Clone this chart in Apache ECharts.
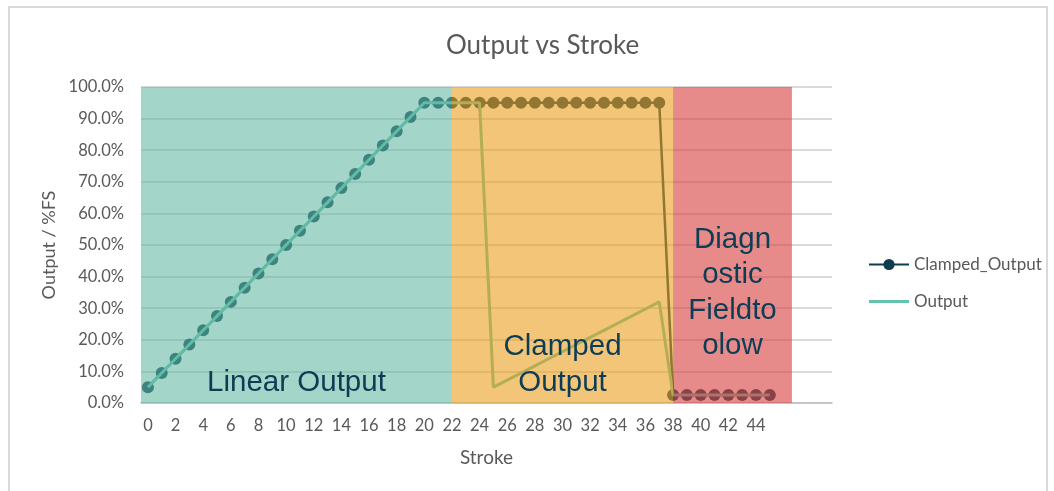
<!DOCTYPE html>
<html>
<head>
<meta charset="utf-8">
<script src="https://cdn.jsdelivr.net/npm/echarts@6/dist/echarts.min.js"></script>
<style>
html,body{margin:0;padding:0;background:#fff;}
#frame{position:absolute;left:8px;top:6px;width:1040px;height:500px;border:2px solid #d9d9d9;box-sizing:border-box;}
#chart{position:absolute;left:0;top:0;width:1054px;height:491px;}
</style>
</head>
<body>
<div id="frame"></div>
<div id="chart"></div>
<script>
// ---- data ----
const categories = ['0','1','2','3','4','5','6','7','8','9','10','11','12','13','14','15','16','17','18','19','20','21','22','23','24','25','26','27','28','29','30','31','32','33','34','35','36','37','38','39','40','41','42','43','44','45','','','',''];
const clampedOutput = [5,9.5,14,18.5,23,27.5,32,36.5,41,45.5,50,54.5,59,63.5,68,72.5,77,81.5,86,90.5,95,
  95,95,95,95,95,95,95,95,95,95,95,95,95,95,95,95,95,
  2.5,2.5,2.5,2.5,2.5,2.5,2.5,2.5];
const output = [5,9.5,14,18.5,23,27.5,32,36.5,41,45.5,50,54.5,59,63.5,68,72.5,77,81.5,86,90.5,95,
  95,95,95,95,
  5,
  7.25,9.5,11.75,14,16.25,18.5,20.75,23,25.25,27.5,29.75,32,
  2.5,2.5,2.5,2.5,2.5,2.5,2.5,2.5];
const bandNames = ['Linear Output', 'Clamped\nOutput', 'Diagn\nostic\nFieldto\nolow'];
const bandStart = [-0.5, 22, 38];
const bandEnd = [22, 38, 46.6];
const bandColors = ['rgba(96,183,162,0.58)', 'rgba(233,158,30,0.6)', 'rgba(214,66,66,0.62)'];
const bandLabelOffsets = [[0,138],[0,120],[0,48]];

const chart = echarts.init(document.getElementById('chart'), null, {renderer:'canvas'});
const FONT = 'Lato';
const markData = bandNames.map((n, i) => [
  {name: n, xAxis: bandStart[i], yAxis: 0,
   itemStyle: {color: bandColors[i]},
   label: {offset: bandLabelOffsets[i]}},
  {xAxis: bandEnd[i], yAxis: 100}
]);

chart.setOption({
  backgroundColor: 'transparent',
  animation: false,
  title: {
    text: 'Output vs Stroke', left: 441, top: 28,
    textStyle: {fontFamily: FONT, fontSize: 26, fontWeight: 'normal', color: '#595959'}
  },
  legend: {
    orient: 'vertical', left: 863, top: 251, itemWidth: 40, itemHeight: 14, itemGap: 20,
    textStyle: {fontFamily: FONT, fontSize: 17, color: '#595959'},
    data: [
      {name: 'Clamped_Output'},
      {name: 'Output', icon: 'path://M0,0 L40,0 L40,3 L0,3 Z'}
    ]
  },
  grid: {left: 141, right: 222, top: 87, bottom: 88, containLabel: false},
  xAxis: [{
    type: 'category', data: categories, boundaryGap: true,
    name: 'Stroke', nameLocation: 'middle', nameGap: 45,
    nameTextStyle: {fontFamily: FONT, fontSize: 19, color: '#595959'},
    axisLine: {lineStyle: {color: '#bfbfbf', width: 1.5}},
    axisTick: {show: false},
    axisLabel: {interval: 1, margin: 14, fontFamily: FONT, fontSize: 16.5, color: '#595959'},
    splitLine: {show: false}
  }, {
    type: 'value', min: -0.5, max: 49.5, show: false
  }],
  yAxis: {
    type: 'value', min: 0, max: 100, interval: 10,
    name: 'Output / %FS', nameLocation: 'middle', nameGap: 83,
    nameTextStyle: {fontFamily: FONT, fontSize: 18, color: '#595959'},
    axisLine: {show: false}, axisTick: {show: false},
    axisLabel: {margin: 17, fontFamily: FONT, fontSize: 16.5, color: '#595959',
      formatter: v => v.toFixed(1) + '%'},
    splitLine: {lineStyle: {color: '#d9d9d9', width: 2}}
  },
  series: [{
    name: 'Clamped_Output', type: 'line', data: clampedOutput,
    symbol: 'circle', symbolSize: 12, showSymbol: true, showAllSymbol: true,
    lineStyle: {color: '#0f3d50', width: 2.5},
    itemStyle: {color: '#0f3d50'}, z: 2
  }, {
    name: 'Output', type: 'line', data: output,
    symbol: 'none', showSymbol: false,
    lineStyle: {color: '#62c4ab', width: 3},
    itemStyle: {color: '#62c4ab'}, z: 3
  }, {
    name: 'bands', type: 'line', xAxisIndex: 1, data: [], z: 10,
    silent: true,
    markArea: {
      silent: true, z: 10,
      label: {show: true, position: 'inside', fontFamily: 'Liberation Sans', fontSize: 29.5,
        lineHeight: 35.5, color: '#0d3c55', align: 'center'},
      data: markData
    }
  }]
});
</script>
</body>
</html>
